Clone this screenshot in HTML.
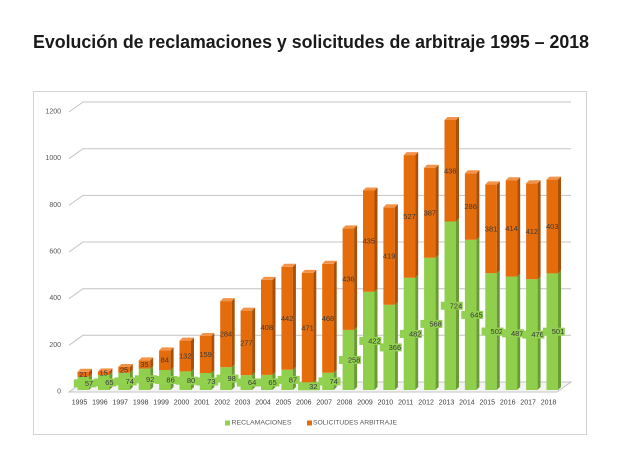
<!DOCTYPE html>
<html><head><meta charset="utf-8"><style>
html,body{margin:0;padding:0;background:#fff;}
svg{display:block;font-family:"Liberation Sans",sans-serif;}
.gf{fill:#8fcf4c}.gs{fill:#6a9c34}.of{fill:#e46c0a}.os{fill:#a94f07}.ot{fill:#f3934a}
.gl{fill:none;stroke:#c4c4c4;stroke-width:1}
.yl{font-size:7px;fill:#555;text-anchor:end;dominant-baseline:central}
.xl{font-size:7px;fill:#404040;text-anchor:middle;dominant-baseline:central}
.ol{font-size:7.5px;fill:#3a3a3a;text-anchor:middle;dominant-baseline:central}
.glb{font-size:7.5px;fill:#3a3a3a;text-anchor:middle;dominant-baseline:central}
.lb{fill:#92d050}
</style></head><body>
<svg width="630" height="476" viewBox="0 0 630 476" xmlns="http://www.w3.org/2000/svg">
<rect x="0" y="0" width="630" height="476" fill="#fff"/>
<text x="33" y="48" font-size="18" font-weight="bold" fill="#1a1a1a" textLength="556" lengthAdjust="spacingAndGlyphs">Evolución de reclamaciones y solicitudes de arbitraje 1995 – 2018</text>
<rect x="33.5" y="91.5" width="553" height="343" fill="#fff" stroke="#d4d4d4" stroke-width="1"/>

<!-- floor -->
<polygon points="69,392 83,382 571,382 557,392" fill="#f4f4f4" stroke="#c4c4c4" stroke-width="1"/>
<!-- gridlines -->
<polyline class="gl" points="69,345.3 83,335.3 571,335.3"/>
<polyline class="gl" points="69,298.7 83,288.7 571,288.7"/>
<polyline class="gl" points="69,252 83,242 571,242"/>
<polyline class="gl" points="69,205.4 83,195.4 571,195.4"/>
<polyline class="gl" points="69,158.7 83,148.7 571,148.7"/>
<polyline class="gl" points="69,112 83,102 571,102"/>

<text class="yl" x="61" y="392">0</text>
<text class="yl" x="61" y="345.3">200</text>
<text class="yl" x="61" y="298.7">400</text>
<text class="yl" x="61" y="252">600</text>
<text class="yl" x="61" y="205.4">800</text>
<text class="yl" x="61" y="158.7">1000</text>
<text class="yl" x="61" y="112">1200</text>

<!-- bars -->
<g transform="translate(77.5 0)"><rect class="gf" x="0" y="376.7" width="11.5" height="13.3"/><polygon class="gs" points="11.5,376.7 14.5,373.7 14.5,387 11.5,390"/><rect class="of" x="0" y="371.8" width="11.5" height="4.9"/><polygon class="os" points="11.5,371.8 14.5,368.8 14.5,373.7 11.5,376.7"/><polygon class="ot" points="0,371.8 3,368.8 14.5,368.8 11.5,371.8"/></g>
<g transform="translate(97.9 0)"><rect class="gf" x="0" y="374.9" width="11.5" height="15.1"/><polygon class="gs" points="11.5,374.9 14.5,371.9 14.5,387 11.5,390"/><rect class="of" x="0" y="371.4" width="11.5" height="3.5"/><polygon class="os" points="11.5,371.4 14.5,368.4 14.5,371.9 11.5,374.9"/><polygon class="ot" points="0,371.4 3,368.4 14.5,368.4 11.5,371.4"/></g>
<g transform="translate(118.3 0)"><rect class="gf" x="0" y="372.8" width="11.5" height="17.2"/><polygon class="gs" points="11.5,372.8 14.5,369.8 14.5,387 11.5,390"/><rect class="of" x="0" y="367" width="11.5" height="5.8"/><polygon class="os" points="11.5,367 14.5,364 14.5,369.8 11.5,372.8"/><polygon class="ot" points="0,367 3,364 14.5,364 11.5,367"/></g>
<g transform="translate(138.7 0)"><rect class="gf" x="0" y="368.6" width="11.5" height="21.4"/><polygon class="gs" points="11.5,368.6 14.5,365.6 14.5,387 11.5,390"/><rect class="of" x="0" y="360.4" width="11.5" height="8.2"/><polygon class="os" points="11.5,360.4 14.5,357.4 14.5,365.6 11.5,368.6"/><polygon class="ot" points="0,360.4 3,357.4 14.5,357.4 11.5,360.4"/></g>
<g transform="translate(159.1 0)"><rect class="gf" x="0" y="370" width="11.5" height="20"/><polygon class="gs" points="11.5,370 14.5,367 14.5,387 11.5,390"/><rect class="of" x="0" y="350.4" width="11.5" height="19.6"/><polygon class="os" points="11.5,350.4 14.5,347.4 14.5,367 11.5,370"/><polygon class="ot" points="0,350.4 3,347.4 14.5,347.4 11.5,350.4"/></g>
<g transform="translate(179.5 0)"><rect class="gf" x="0" y="371.4" width="11.5" height="18.6"/><polygon class="gs" points="11.5,371.4 14.5,368.4 14.5,387 11.5,390"/><rect class="of" x="0" y="340.6" width="11.5" height="30.8"/><polygon class="os" points="11.5,340.6 14.5,337.6 14.5,368.4 11.5,371.4"/><polygon class="ot" points="0,340.6 3,337.6 14.5,337.6 11.5,340.6"/></g>
<g transform="translate(199.8 0)"><rect class="gf" x="0" y="373" width="11.5" height="17"/><polygon class="gs" points="11.5,373 14.5,370 14.5,387 11.5,390"/><rect class="of" x="0" y="336" width="11.5" height="37"/><polygon class="os" points="11.5,336 14.5,333 14.5,370 11.5,373"/><polygon class="ot" points="0,336 3,333 14.5,333 11.5,336"/></g>
<g transform="translate(220.2 0)"><rect class="gf" x="0" y="367.2" width="11.5" height="22.8"/><polygon class="gs" points="11.5,367.2 14.5,364.2 14.5,387 11.5,390"/><rect class="of" x="0" y="301.1" width="11.5" height="66.1"/><polygon class="os" points="11.5,301.1 14.5,298.1 14.5,364.2 11.5,367.2"/><polygon class="ot" points="0,301.1 3,298.1 14.5,298.1 11.5,301.1"/></g>
<g transform="translate(240.6 0)"><rect class="gf" x="0" y="375.1" width="11.5" height="14.9"/><polygon class="gs" points="11.5,375.1 14.5,372.1 14.5,387 11.5,390"/><rect class="of" x="0" y="310.6" width="11.5" height="64.5"/><polygon class="os" points="11.5,310.6 14.5,307.6 14.5,372.1 11.5,375.1"/><polygon class="ot" points="0,310.6 3,307.6 14.5,307.6 11.5,310.6"/></g>
<g transform="translate(261 0)"><rect class="gf" x="0" y="374.9" width="11.5" height="15.1"/><polygon class="gs" points="11.5,374.9 14.5,371.9 14.5,387 11.5,390"/><rect class="of" x="0" y="279.9" width="11.5" height="95"/><polygon class="os" points="11.5,279.9 14.5,276.9 14.5,371.9 11.5,374.9"/><polygon class="ot" points="0,279.9 3,276.9 14.5,276.9 11.5,279.9"/></g>
<g transform="translate(281.4 0)"><rect class="gf" x="0" y="369.7" width="11.5" height="20.3"/><polygon class="gs" points="11.5,369.7 14.5,366.7 14.5,387 11.5,390"/><rect class="of" x="0" y="266.8" width="11.5" height="102.9"/><polygon class="os" points="11.5,266.8 14.5,263.8 14.5,366.7 11.5,369.7"/><polygon class="ot" points="0,266.8 3,263.8 14.5,263.8 11.5,266.8"/></g>
<g transform="translate(301.8 0)"><rect class="gf" x="0" y="382.6" width="11.5" height="7.4"/><polygon class="gs" points="11.5,382.6 14.5,379.6 14.5,387 11.5,390"/><rect class="of" x="0" y="272.9" width="11.5" height="109.7"/><polygon class="os" points="11.5,272.9 14.5,269.9 14.5,379.6 11.5,382.6"/><polygon class="ot" points="0,272.9 3,269.9 14.5,269.9 11.5,272.9"/></g>
<g transform="translate(322.2 0)"><rect class="gf" x="0" y="372.8" width="11.5" height="17.2"/><polygon class="gs" points="11.5,372.8 14.5,369.8 14.5,387 11.5,390"/><rect class="of" x="0" y="263.8" width="11.5" height="109"/><polygon class="os" points="11.5,263.8 14.5,260.8 14.5,369.8 11.5,372.8"/><polygon class="ot" points="0,263.8 3,260.8 14.5,260.8 11.5,263.8"/></g>
<g transform="translate(342.6 0)"><rect class="gf" x="0" y="329.9" width="11.5" height="60.1"/><polygon class="gs" points="11.5,329.9 14.5,326.9 14.5,387 11.5,390"/><rect class="of" x="0" y="228.4" width="11.5" height="101.5"/><polygon class="os" points="11.5,228.4 14.5,225.4 14.5,326.9 11.5,329.9"/><polygon class="ot" points="0,228.4 3,225.4 14.5,225.4 11.5,228.4"/></g>
<g transform="translate(363 0)"><rect class="gf" x="0" y="291.8" width="11.5" height="98.2"/><polygon class="gs" points="11.5,291.8 14.5,288.8 14.5,387 11.5,390"/><rect class="of" x="0" y="190.5" width="11.5" height="101.3"/><polygon class="os" points="11.5,190.5 14.5,187.5 14.5,288.8 11.5,291.8"/><polygon class="ot" points="0,190.5 3,187.5 14.5,187.5 11.5,190.5"/></g>
<g transform="translate(383.4 0)"><rect class="gf" x="0" y="304.8" width="11.5" height="85.2"/><polygon class="gs" points="11.5,304.8 14.5,301.8 14.5,387 11.5,390"/><rect class="of" x="0" y="207.3" width="11.5" height="97.5"/><polygon class="os" points="11.5,207.3 14.5,204.3 14.5,301.8 11.5,304.8"/><polygon class="ot" points="0,207.3 3,204.3 14.5,204.3 11.5,207.3"/></g>
<g transform="translate(403.7 0)"><rect class="gf" x="0" y="277.8" width="11.5" height="112.2"/><polygon class="gs" points="11.5,277.8 14.5,274.8 14.5,387 11.5,390"/><rect class="of" x="0" y="155.1" width="11.5" height="122.7"/><polygon class="os" points="11.5,155.1 14.5,152.1 14.5,274.8 11.5,277.8"/><polygon class="ot" points="0,155.1 3,152.1 14.5,152.1 11.5,155.1"/></g>
<g transform="translate(424.1 0)"><rect class="gf" x="0" y="257.8" width="11.5" height="132.2"/><polygon class="gs" points="11.5,257.8 14.5,254.8 14.5,387 11.5,390"/><rect class="of" x="0" y="167.7" width="11.5" height="90.1"/><polygon class="os" points="11.5,167.7 14.5,164.7 14.5,254.8 11.5,257.8"/><polygon class="ot" points="0,167.7 3,164.7 14.5,164.7 11.5,167.7"/></g>
<g transform="translate(444.5 0)"><rect class="gf" x="0" y="221.5" width="11.5" height="168.5"/><polygon class="gs" points="11.5,221.5 14.5,218.5 14.5,387 11.5,390"/><rect class="of" x="0" y="120" width="11.5" height="101.5"/><polygon class="os" points="11.5,120 14.5,117 14.5,218.5 11.5,221.5"/><polygon class="ot" points="0,120 3,117 14.5,117 11.5,120"/></g>
<g transform="translate(464.9 0)"><rect class="gf" x="0" y="239.8" width="11.5" height="150.2"/><polygon class="gs" points="11.5,239.8 14.5,236.8 14.5,387 11.5,390"/><rect class="of" x="0" y="173.3" width="11.5" height="66.5"/><polygon class="os" points="11.5,173.3 14.5,170.3 14.5,236.8 11.5,239.8"/><polygon class="ot" points="0,173.3 3,170.3 14.5,170.3 11.5,173.3"/></g>
<g transform="translate(485.3 0)"><rect class="gf" x="0" y="273.1" width="11.5" height="116.9"/><polygon class="gs" points="11.5,273.1 14.5,270.1 14.5,387 11.5,390"/><rect class="of" x="0" y="184.4" width="11.5" height="88.7"/><polygon class="os" points="11.5,184.4 14.5,181.4 14.5,270.1 11.5,273.1"/><polygon class="ot" points="0,184.4 3,181.4 14.5,181.4 11.5,184.4"/></g>
<g transform="translate(505.7 0)"><rect class="gf" x="0" y="276.6" width="11.5" height="113.4"/><polygon class="gs" points="11.5,276.6 14.5,273.6 14.5,387 11.5,390"/><rect class="of" x="0" y="180.2" width="11.5" height="96.4"/><polygon class="os" points="11.5,180.2 14.5,177.2 14.5,273.6 11.5,276.6"/><polygon class="ot" points="0,180.2 3,177.2 14.5,177.2 11.5,180.2"/></g>
<g transform="translate(526.1 0)"><rect class="gf" x="0" y="279.2" width="11.5" height="110.8"/><polygon class="gs" points="11.5,279.2 14.5,276.2 14.5,387 11.5,390"/><rect class="of" x="0" y="183.3" width="11.5" height="95.9"/><polygon class="os" points="11.5,183.3 14.5,180.3 14.5,276.2 11.5,279.2"/><polygon class="ot" points="0,183.3 3,180.3 14.5,180.3 11.5,183.3"/></g>
<g transform="translate(546.5 0)"><rect class="gf" x="0" y="273.4" width="11.5" height="116.6"/><polygon class="gs" points="11.5,273.4 14.5,270.4 14.5,387 11.5,390"/><rect class="of" x="0" y="179.6" width="11.5" height="93.8"/><polygon class="os" points="11.5,179.6 14.5,176.6 14.5,270.4 11.5,273.4"/><polygon class="ot" points="0,179.6 3,176.6 14.5,176.6 11.5,179.6"/></g>

<!-- orange labels -->
<text class="ol" x="83.25" y="374.25">21</text>
<text class="ol" x="103.65" y="373.15">15</text>
<text class="ol" x="124.05" y="369.9">25</text>
<text class="ol" x="144.45" y="364.5">35</text>
<text class="ol" x="164.85" y="360.2">84</text>
<text class="ol" x="185.25" y="356">132</text>
<text class="ol" x="205.55" y="354.5">159</text>
<text class="ol" x="225.95" y="334.15">284</text>
<text class="ol" x="246.35" y="342.85">277</text>
<text class="ol" x="266.75" y="327.4">408</text>
<text class="ol" x="287.15" y="318.25">442</text>
<text class="ol" x="307.55" y="327.75">471</text>
<text class="ol" x="327.95" y="318.3">468</text>
<text class="ol" x="348.35" y="279.15">436</text>
<text class="ol" x="368.75" y="241.15">435</text>
<text class="ol" x="389.15" y="256.05">419</text>
<text class="ol" x="409.45" y="216.45">527</text>
<text class="ol" x="429.85" y="212.75">387</text>
<text class="ol" x="450.25" y="170.75">436</text>
<text class="ol" x="470.65" y="206.55">286</text>
<text class="ol" x="491.05" y="228.75">381</text>
<text class="ol" x="511.45" y="228.4">414</text>
<text class="ol" x="531.85" y="231.25">412</text>
<text class="ol" x="552.25" y="226.5">403</text>

<!-- green labels -->
<g>
<rect class="lb" x="73.8" y="379.35" width="22" height="8"/><text class="glb" x="89" y="383.35">57</text>
<rect class="lb" x="94.2" y="378.45" width="22" height="8"/><text class="glb" x="109.4" y="382.45">65</text>
<rect class="lb" x="114.6" y="377.4" width="22" height="8"/><text class="glb" x="129.8" y="381.4">74</text>
<rect class="lb" x="135" y="375.3" width="22" height="8"/><text class="glb" x="150.2" y="379.3">92</text>
<rect class="lb" x="155.4" y="376" width="22" height="8"/><text class="glb" x="170.6" y="380">86</text>
<rect class="lb" x="175.8" y="376.7" width="22" height="8"/><text class="glb" x="191" y="380.7">80</text>
<rect class="lb" x="196.1" y="377.5" width="22" height="8"/><text class="glb" x="211.3" y="381.5">73</text>
<rect class="lb" x="216.5" y="374.6" width="22" height="8"/><text class="glb" x="231.7" y="378.6">98</text>
<rect class="lb" x="236.9" y="378.55" width="22" height="8"/><text class="glb" x="252.1" y="382.55">64</text>
<rect class="lb" x="257.3" y="378.45" width="22" height="8"/><text class="glb" x="272.5" y="382.45">65</text>
<rect class="lb" x="277.7" y="375.85" width="22" height="8"/><text class="glb" x="292.9" y="379.85">87</text>
<rect class="lb" x="298.1" y="382.3" width="22" height="8"/><text class="glb" x="313.3" y="386.3">32</text>
<rect class="lb" x="318.5" y="377.4" width="22" height="8"/><text class="glb" x="333.7" y="381.4">74</text>
<rect class="lb" x="338.9" y="355.95" width="22" height="8"/><text class="glb" x="354.1" y="359.95">258</text>
<rect class="lb" x="359.3" y="336.9" width="22" height="8"/><text class="glb" x="374.5" y="340.9">422</text>
<rect class="lb" x="379.7" y="343.4" width="22" height="8"/><text class="glb" x="394.9" y="347.4">366</text>
<rect class="lb" x="400" y="329.9" width="22" height="8"/><text class="glb" x="415.2" y="333.9">482</text>
<rect class="lb" x="420.4" y="319.9" width="22" height="8"/><text class="glb" x="435.6" y="323.9">568</text>
<rect class="lb" x="440.8" y="301.75" width="22" height="8"/><text class="glb" x="456" y="305.75">724</text>
<rect class="lb" x="461.2" y="310.9" width="22" height="8"/><text class="glb" x="476.4" y="314.9">645</text>
<rect class="lb" x="481.6" y="327.55" width="22" height="8"/><text class="glb" x="496.8" y="331.55">502</text>
<rect class="lb" x="502" y="329.3" width="22" height="8"/><text class="glb" x="517.2" y="333.3">487</text>
<rect class="lb" x="522.4" y="330.6" width="22" height="8"/><text class="glb" x="537.6" y="334.6">476</text>
<rect class="lb" x="542.8" y="327.7" width="22" height="8"/><text class="glb" x="558" y="331.7">501</text>
</g>

<!-- x labels -->
<text class="xl" x="79.5" y="403">1995</text>
<text class="xl" x="99.9" y="403">1996</text>
<text class="xl" x="120.3" y="403">1997</text>
<text class="xl" x="140.7" y="403">1998</text>
<text class="xl" x="161.1" y="403">1999</text>
<text class="xl" x="181.5" y="403">2000</text>
<text class="xl" x="201.8" y="403">2001</text>
<text class="xl" x="222.2" y="403">2002</text>
<text class="xl" x="242.6" y="403">2003</text>
<text class="xl" x="263" y="403">2004</text>
<text class="xl" x="283.4" y="403">2005</text>
<text class="xl" x="303.8" y="403">2006</text>
<text class="xl" x="324.2" y="403">2007</text>
<text class="xl" x="344.6" y="403">2008</text>
<text class="xl" x="365" y="403">2009</text>
<text class="xl" x="385.4" y="403">2010</text>
<text class="xl" x="405.7" y="403">2011</text>
<text class="xl" x="426.1" y="403">2012</text>
<text class="xl" x="446.5" y="403">2013</text>
<text class="xl" x="466.9" y="403">2014</text>
<text class="xl" x="487.3" y="403">2015</text>
<text class="xl" x="507.7" y="403">2016</text>
<text class="xl" x="528.1" y="403">2017</text>
<text class="xl" x="548.5" y="403">2018</text>

<!-- legend -->
<rect x="225" y="420.5" width="5" height="5" fill="#92d050"/>
<text x="231.5" y="423" font-size="6.5" fill="#595959" dominant-baseline="central" textLength="60" lengthAdjust="spacingAndGlyphs">RECLAMACIONES</text>
<rect x="307" y="420.5" width="5" height="5" fill="#e46c0a"/>
<text x="313" y="423" font-size="6.5" fill="#595959" dominant-baseline="central" textLength="84" lengthAdjust="spacingAndGlyphs">SOLICITUDES ARBITRAJE</text>
</svg>
</body></html>
